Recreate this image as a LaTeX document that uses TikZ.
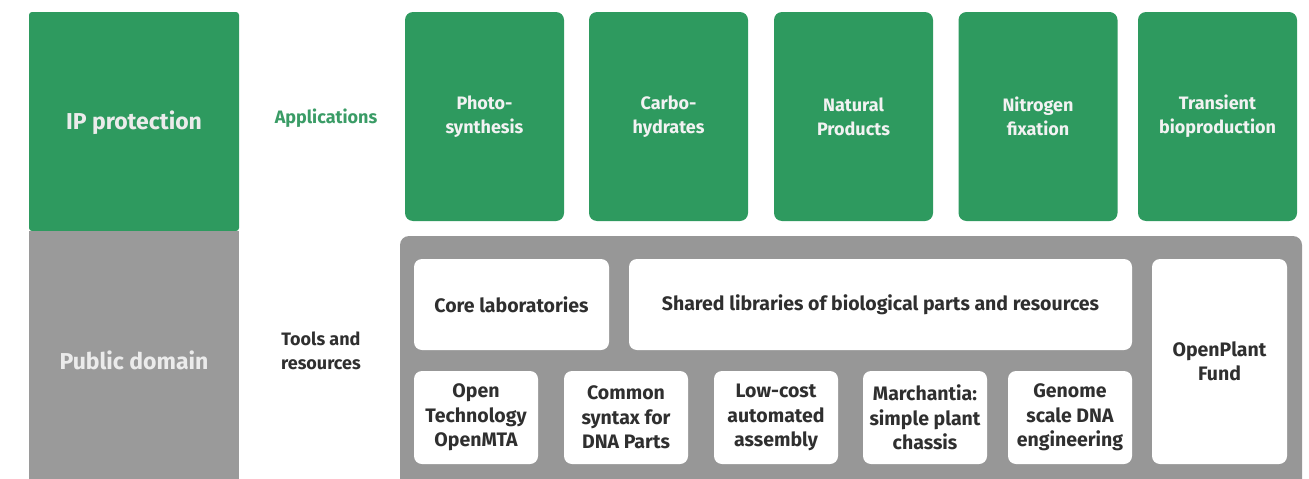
\documentclass[tikz,border=0pt]{standalone}
\usepackage{fontspec}
\setmainfont{Fira Sans}
\definecolor{ipgreen}{HTML}{2E9A5F}
\definecolor{pdgray}{HTML}{9A9A9A}
\definecolor{panelgray}{HTML}{979797}
\definecolor{boxtext}{HTML}{2F2F2F}
\definecolor{labgreen}{HTML}{3A9C66}
\tikzset{
  base/.style={rectangle, inner sep=0pt, align=center, font=\bfseries\fontsize{18}{24}\selectfont},
  appbox/.style={base, fill=ipgreen, text=white!95!black, rounded corners=8pt, minimum width=159pt, minimum height=209pt},
  toolbox/.style={base, fill=white, text=boxtext, rounded corners=8pt, font=\bfseries\fontsize{19.5}{24.5}\selectfont},
  sidelabel/.style={base, text=white!92!black, font=\bfseries\fontsize{23}{26}\selectfont},
}
\begin{document}
\begin{tikzpicture}[x=1pt,y=-1pt]
\useasboundingbox (0,0) rectangle (1309,479);
\begin{scope}
\clip (0,0) rectangle (1309,479);
% left column
\fill[ipgreen, rounded corners=3pt] (29,231) -- (29,12) -- (239,12) -- (239,231) -- cycle;
\fill[pdgray] (29,231) rectangle (239,479);
% big panel
\fill[panelgray, rounded corners=9pt] (400,495) -- (400,236) -- (1302,236) -- (1302,495);
\end{scope}
\node[sidelabel] (ip) at (134,123) {IP protection};
\node[sidelabel] (pd) at (134,360) {Public domain};
\node[base, text=labgreen] (apps) at (326,118) {Applications};
\node[base, text=boxtext, font=\bfseries\fontsize{18}{23.5}\selectfont] (tools) at (321,351) {Tools and\\resources};
% applications
\node[appbox] (a1) at (484.5,116.5) {Photo-\\synthesis};
\node[appbox] (a2) at (668.5,116.5) {Carbo-\\hydrates};
\node[appbox] (a3) at (853.5,116.5) {Natural\\Products};
\node[appbox] (a4) at (1038,116.5) {Nitrogen\\fixation};
\node[appbox] (a5) at (1217.5,116.5) {Transient\\bioproduction};
% tools
\node[toolbox, minimum width=195pt, minimum height=91pt] (core) at (511.5,304.5) {Core laboratories};
\node[toolbox, minimum width=503pt, minimum height=91pt] (shared) at (880.5,304.5) {Shared libraries of biological parts and resources};
\node[toolbox, minimum width=135pt, minimum height=205pt] (fund) at (1219.5,361.5) {OpenPlant\\Fund};
\tikzset{small/.style={toolbox, minimum width=124pt, minimum height=93pt}}
\node[small] (b1) at (476,417.5) {Open\\Technology\\OpenMTA};
\node[small] (b2) at (626,417.5) {Common\\syntax for\\DNA Parts};
\node[small] (b3) at (776,417.5) {Low-cost\\automated\\assembly};
\node[small] (b4) at (925,417.5) {Marchantia:\\simple plant\\chassis};
\node[small] (b5) at (1070,417.5) {Genome\\scale DNA\\engineering};
\end{tikzpicture}
\end{document}
